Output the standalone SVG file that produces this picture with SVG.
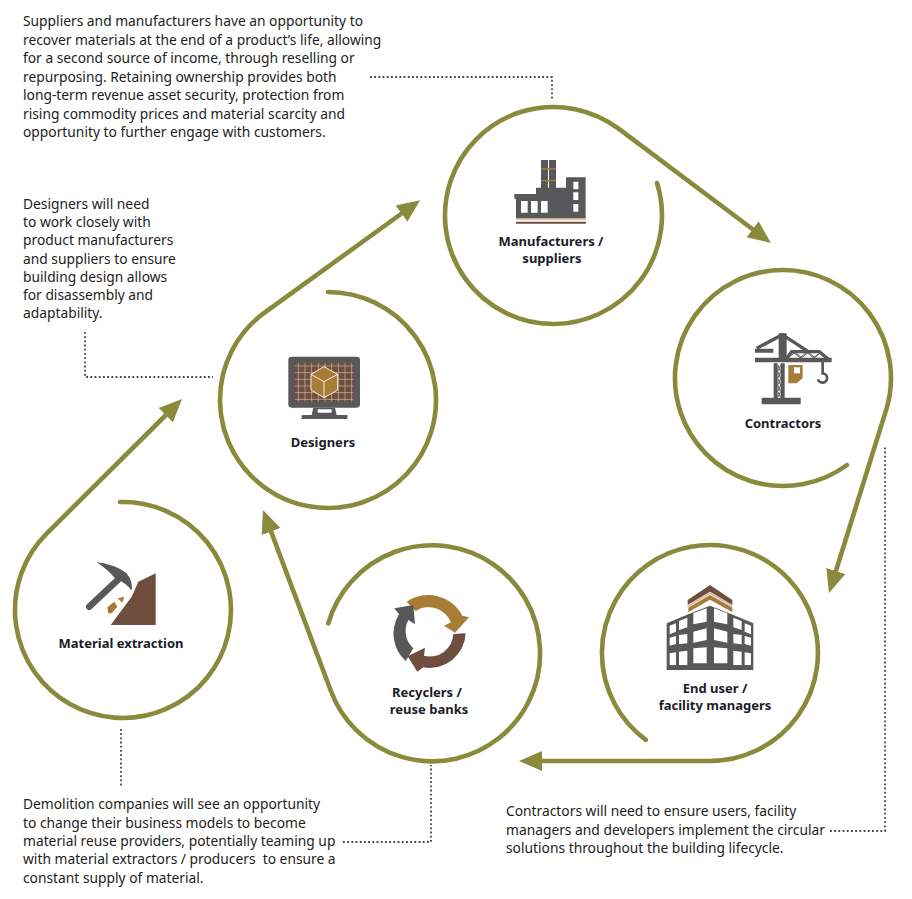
<svg xmlns="http://www.w3.org/2000/svg" width="912" height="899" viewBox="0 0 912 899">
<style>
text{font-family:"Noto Sans","Open Sans",sans-serif;fill:#1d1d1b}
.b{font-size:13.8px;white-space:pre}
.n{font-size:13px;font-weight:700;text-anchor:middle;fill:#1c1c28}
.c{fill:none;stroke:#8a8a3c;stroke-width:4.6;stroke-linecap:round}
.d{fill:none;stroke:#444;stroke-width:1.8;stroke-dasharray:1.8 2.4}
.g{fill:#58585a}.br{fill:#6f4e3f}.au{fill:#a67c37}.w{fill:#fff}
</style>
<defs>
<marker id="a" markerUnits="userSpaceOnUse" markerWidth="26" markerHeight="24" refX="13" refY="12" orient="auto"><path d="M0,2L23,12L0,22Z" fill="#8a8a3c"/></marker>
<pattern id="gr" patternUnits="userSpaceOnUse" width="20" height="20" x="75" y="68"><path d="M10,0V20M0,10H20" stroke="#d9c2ad" stroke-width="1.8" fill="none"/></pattern>
<path id="win" class="w" d="M44,152L63,145V170L44,178ZM72,138L97,128V157L72,165ZM115,115L155,100V140L115,148ZM44,188L63,183V207L44,212ZM72,180L97,177V205L72,208ZM115,170L155,160V195L115,203ZM44,235L63,232V270H44ZM72,230L97,227V270H72ZM115,220L155,217V265H115Z"/>
</defs>
<g id="connectors">
<path class="c" marker-end="url(#a)" d="M657,183A108.5,108.5 0 1 1 618.6,128.7L763,237"/>
<path class="c" marker-end="url(#a)" d="M847,465A108,108 0 1 1 886.1,410.1L832,583.5"/>
<path class="c" marker-end="url(#a)" d="M645.8,739.9A108,108 0 1 1 710,761L529,761"/>
<path class="c" marker-end="url(#a)" d="M328.3,623.4A108,108 0 1 1 330.7,690.5L266.5,519.4"/>
<path class="c" marker-end="url(#a)" d="M328,292A108,108 0 1 1 263.2,313.6L412,206"/>
<path class="c" marker-end="url(#a)" d="M120,502A108,108 0 1 1 46.6,533.6L175,406"/>
<path class="d" d="M370,77H552V100"/>
<path class="d" d="M85,332V377H213"/>
<path class="d" d="M121,729V787"/>
<path class="d" d="M343,842H431V765"/>
<path class="d" d="M830,831H885V445"/>
</g>
<g id="manufacturers">
<g transform="translate(505,150) scale(.3333)">
<path class="g" d="M108,30H129V113H108ZM132,30H153V113H132ZM28,132H93V113H183V82H242V205H33V148L28,145Z"/>
<path d="M108,57H153M108,92H153" stroke="#a67c37" stroke-width="4"/>
<path class="w" d="M48,153H68V188H48ZM78,153H98V188H78ZM108,153H128V188H108ZM205,95H220V118H205ZM205,127H220V150H205ZM205,162H220V185H205Z"/>
<path d="M33,205H243V209H33Z" fill="#c8a983"/><path d="M33,215H243V221H33Z" class="br"/>
</g>
<text class="n" x="551" y="246">Manufacturers /</text><text class="n" x="552" y="263">suppliers</text>
</g>
<g id="contractors">
<g transform="translate(730,320) scale(.3333)">
<path class="g" d="M131,130H143V235H131ZM152,130H164V235H152ZM95,233H212V253H95ZM146,40H170V115H146ZM75,86H130V98H75ZM75,113H305V127H75Z"/>
<path d="M80,85L157,44L235,95M168,118L185,95H268L295,118" fill="none" stroke="#58585a" stroke-width="10"/>
<path d="M143,135L152,155L143,175L152,195L143,215L152,232M152,135L143,155L152,175L143,195L152,215L143,232M175,113L195,97L215,113L235,97L255,113L270,97M190,97L210,113L230,97L250,113L270,100" fill="none" stroke="#58585a" stroke-width="3"/>
<path d="M278,125V160A14,14 0 1 1 264,178" fill="none" stroke="#58585a" stroke-width="8"/>
<path class="au" d="M175,135H218V175L200,190H175Z"/><path class="w" d="M192,142H210V160H192Z"/>
</g>
<text class="n" x="783" y="428">Contractors</text>
</g>
<g id="end-user">
<g transform="translate(655,575) scale(.3333)">
<path class="g" d="M35,145L100,118L165,92L230,118L295,145V285H35Z"/>
<use href="#win"/><use href="#win" transform="matrix(-1 0 0 1 332 0)"/>
<path class="br" d="M98,75L165,30L232,75V90L165,50L98,90Z"/>
<path d="M98,90L165,50L232,90V98L165,58L98,98Z" fill="#d9c2ad"/>
<path class="au" d="M100,98L165,60L232,98V112L165,74L100,112Z"/>
</g>
<text class="n" x="715" y="693">End user /</text><text class="n" x="715" y="710">facility managers</text>
</g>
<g id="recyclers">
<g transform="translate(375,585) scale(.3333)">
<path class="au" d="M95,50A115,115 0 0 1 262,92L282,97L240,143L207,122L228,112A72,72 0 0 0 122,78Z"/>
<path class="br" d="M235,147L272,145A108,108 0 0 1 145,247L127,260L98,214L150,188L147,212A70,70 0 0 0 235,147Z"/>
<path class="g" d="M58,70L115,60L120,118L100,105A70,70 0 0 0 115,190L92,228A110,110 0 0 1 72,88Z"/>
</g>
<text class="n" x="427" y="697">Recyclers /</text><text class="n" x="429" y="714">reuse banks</text>
</g>
<g id="designers">
<g transform="translate(270,340) scale(.3333)">
<rect class="g" x="55" y="50" width="215" height="153" rx="10"/>
<rect class="br" x="75" y="68" width="175" height="117"/><rect fill="url(#gr)" x="75" y="68" width="175" height="117"/>
<path class="g" d="M130,203H195L200,225H232V237H95V225H125Z"/><rect class="w" x="143" y="208" width="42" height="10" rx="3"/>
<path class="au" stroke="#fbeedd" stroke-width="3" d="M162,80L203,103V150L162,173L123,150V103Z"/>
<path fill="none" stroke="#fbeedd" stroke-width="3" d="M123,103L162,125L203,103M162,125V173"/>
</g>
<text class="n" x="323" y="447">Designers</text>
</g>
<g id="material-extraction">
<g transform="translate(70,550) scale(.3333)">
<path d="M58,170L145,88" stroke="#58585a" stroke-width="20" stroke-linecap="round"/>
<path class="g" d="M80,37Q130,42 168,68Q190,92 185,122Q170,100 135,85Q115,60 80,37Z"/>
<path class="br" d="M122,225H257V70L205,95L185,140Z"/>
<path class="au" d="M112,172L133,155L142,170L125,190L115,190ZM143,145L163,140L157,158Z"/>
</g>
<text class="n" x="121" y="648">Material extraction</text>
</g>
<g id="notes">
<text class="b" x="23" y="26">Suppliers and manufacturers have an opportunity to</text>
<text class="b" x="23" y="44.5">recover materials at the end of a product’s life, allowing</text>
<text class="b" x="23" y="63">for a second source of income, through reselling or</text>
<text class="b" x="23" y="81.5">repurposing. Retaining ownership provides both</text>
<text class="b" x="23" y="100">long-term revenue asset security, protection from</text>
<text class="b" x="23" y="118.5">rising commodity prices and material scarcity and</text>
<text class="b" x="23" y="137">opportunity to further engage with customers.</text>
<text class="b" x="23" y="209">Designers will need</text>
<text class="b" x="23" y="227">to work closely with</text>
<text class="b" x="23" y="245">product manufacturers</text>
<text class="b" x="23" y="263.5">and suppliers to ensure</text>
<text class="b" x="23" y="282">building design allows</text>
<text class="b" x="23" y="300">for disassembly and</text>
<text class="b" x="23" y="318">adaptability.</text>
<text class="b" x="23" y="809">Demolition companies will see an opportunity</text>
<text class="b" x="23" y="827.5">to change their business models to become</text>
<text class="b" x="23" y="846">material reuse providers, potentially teaming up</text>
<text class="b" x="23" y="864">with material extractors / producers  to ensure a</text>
<text class="b" x="23" y="882.5">constant supply of material.</text>
<text class="b" x="506" y="816">Contractors will need to ensure users, facility</text>
<text class="b" x="506" y="835">managers and developers implement the circular</text>
<text class="b" x="506" y="853">solutions throughout the building lifecycle.</text>
</g>
</svg>
